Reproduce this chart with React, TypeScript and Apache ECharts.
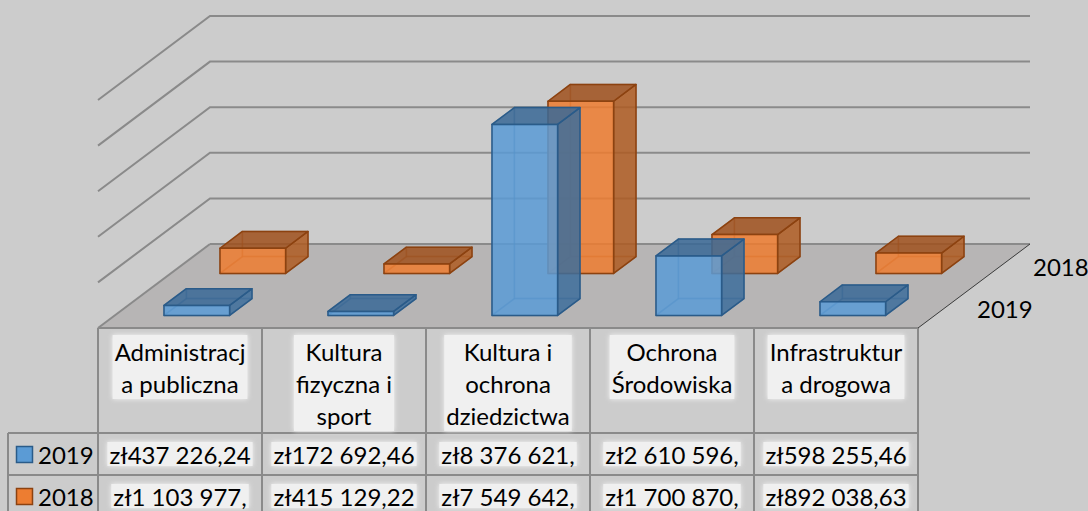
import React, { useEffect, useRef } from "react";
import * as echarts from "echarts";

// ---------- data ----------
const categories = [
  "Administracj\na publiczna",
  "Kultura\nfizyczna i\nsport",
  "Kultura i\nochrona\ndziedzictwa",
  "Ochrona\nŚrodowiska",
  "Infrastruktur\na drogowa",
];
const seriesNames = ["2019", "2018"];
const values2019 = [437226.24, 172692.46, 8376621.0, 2610596.0, 598255.46];
const values2018 = [1103977.0, 415129.22, 7549642.0, 1700870.0, 892038.63];
const yTicks = [2000000, 4000000, 6000000, 8000000, 10000000];

// ---------- layout / style ----------
const W = 1088;
const H = 511;
const GRID_L = 98;
const GRID_R = 918;
const GRID_T = 100;
const FLOOR_Y = 328;
const DX = 112;
const DY = -84;
const FONT = "Lato, 'Open Sans', sans-serif";
const GRID_COLOR = "#8a8a8a";

const palette = [
  { front: "rgba(91,155,213,0.86)", top: "rgba(58,105,150,0.86)", side: "rgba(62,110,155,0.86)", edge: "#2a5b89", solid: "#5b9bd5" },
  { front: "rgba(237,125,49,0.86)", top: "rgba(160,82,30,0.86)", side: "rgba(175,92,35,0.86)", edge: "#8c4210", solid: "#ed7d31" },
];

function plCurrency(v: number): string {
  const [i, d] = v.toFixed(2).split(".");
  const grouped = i.replace(/\B(?=(\d{3})+(?!\d))/g, " ");
  return ("zł" + grouped + "," + d).slice(0, 12);
}

function boxRenderer(row: number) {
  const c = palette[row];
  return (params: any, api: any) => {
    const cat = api.value(0);
    const v = api.value(1);
    const base = api.coord([cat, 0]);
    const topP = api.coord([cat, v]);
    const band = api.size([1, 0])[0];
    const w = band * 0.4;
    const xl = base[0] - w / 2;
    const xr = base[0] + w / 2;
    const yb = base[1];
    const yt = topP[1];
    const f0 = row * 0.5 + 0.15;
    const f1 = f0 + 0.2;
    const P = (x: number, y: number, f: number) => [x + DX * f, y + DY * f];
    const face = (pts: number[][], fill: string, hidden: boolean) => ({
      type: "polygon",
      shape: { points: pts },
      style: {
        fill: hidden ? "rgba(0,0,0,0)" : fill,
        stroke: c.edge,
        lineWidth: 1.5,
        opacity: hidden ? 0.35 : 1,
        lineJoin: "round",
      },
    });
    return {
      type: "group",
      children: [
        face([P(xl, yb, f1), P(xr, yb, f1), P(xr, yt, f1), P(xl, yt, f1)], c.front, true),
        face([P(xl, yb, f0), P(xl, yb, f1), P(xl, yt, f1), P(xl, yt, f0)], c.side, true),
        face([P(xl, yb, f0), P(xr, yb, f0), P(xr, yb, f1), P(xl, yb, f1)], c.top, true),
        face([P(xr, yb, f0), P(xr, yb, f1), P(xr, yt, f1), P(xr, yt, f0)], c.side, false),
        face([P(xl, yt, f0), P(xr, yt, f0), P(xr, yt, f1), P(xl, yt, f1)], c.top, false),
        face([P(xl, yb, f0), P(xr, yb, f0), P(xr, yt, f0), P(xl, yt, f0)], c.front, false),
      ],
    };
  };
}

function floorRenderer(params: any, api: any) {
  const band = api.size([1, 0])[0];
  const a = api.coord([0, 0]);
  const b = api.coord([categories.length - 1, 0]);
  const L = a[0] - band / 2;
  const R = b[0] + band / 2;
  const y = a[1];
  return {
    type: "group",
    children: [
      {
        type: "polygon",
        shape: { points: [[L, y], [R, y], [R + DX, y + DY], [L + DX, y + DY]] },
        style: { fill: "#b7b5b5", stroke: "none" },
      },
      { type: "line", shape: { x1: L, y1: y, x2: L + DX, y2: y + DY }, style: { stroke: GRID_COLOR, lineWidth: 2 } },
      { type: "line", shape: { x1: L + DX, y1: y + DY, x2: R + DX, y2: y + DY }, style: { stroke: GRID_COLOR, lineWidth: 2 } },
      { type: "line", shape: { x1: R, y1: y, x2: R + DX, y2: y + DY }, style: { stroke: "#3a3a3a", lineWidth: 1 } },
      { type: "line", shape: { x1: L, y1: y, x2: R, y2: y }, style: { stroke: GRID_COLOR, lineWidth: 2 } },
    ],
  };
}

function wallRenderer(params: any, api: any) {
  const band = api.size([1, 0])[0];
  const v = api.value(1);
  const a = api.coord([0, v]);
  const b = api.coord([categories.length - 1, v]);
  const L = a[0] - band / 2;
  const R = b[0] + band / 2;
  const y = a[1];
  return {
    type: "polyline",
    shape: { points: [[L, y], [L + DX, y + DY], [R + DX, y + DY]] },
    style: { stroke: GRID_COLOR, lineWidth: 2, fill: "none" },
  };
}

function buildTable(): any[] {
  const els: any[] = [];
  const colW = (GRID_R - GRID_L) / categories.length;
  const headerBottom = 433;
  const rowH = 42;
  const lineStyle = { stroke: GRID_COLOR, lineWidth: 2 };
  for (let i = 0; i <= categories.length; i++) {
    const x = GRID_L + i * colW;
    els.push({ type: "line", shape: { x1: x, y1: FLOOR_Y, x2: x, y2: H + 5 }, style: lineStyle, z: 1 });
  }
  els.push({ type: "line", shape: { x1: 8, y1: headerBottom, x2: 8, y2: H + 5 }, style: lineStyle, z: 1 });
  for (let r = 0; r <= seriesNames.length; r++) {
    const y = headerBottom + r * rowH;
    els.push({ type: "line", shape: { x1: 8, y1: y, x2: GRID_R, y2: y }, style: lineStyle, z: 1 });
  }
  const glow = {
    backgroundColor: "#f0f0f0",
    shadowColor: "rgba(250,250,250,0.9)",
    shadowBlur: 5,
    padding: [0, 2],
  };
  categories.forEach((c, i) => {
    els.push({
      type: "text",
      x: GRID_L + colW * (i + 0.5),
      y: 335,
      z: 2,
      style: { text: c, font: `24px ${FONT}`, fill: "#000", align: "center", verticalAlign: "top", lineHeight: 32, ...glow },
    });
  });
  const rows = [values2019, values2018];
  rows.forEach((vals, r) => {
    const cy = headerBottom + rowH * (r + 0.5);
    els.push({
      type: "rect",
      shape: { x: 16.5, y: cy - 7.5, width: 16, height: 16 },
      style: { fill: palette[r].solid, stroke: palette[r].edge, lineWidth: 1.5 },
      z: 2,
    });
    els.push({
      type: "text",
      x: 38,
      y: cy,
      z: 2,
      style: { text: seriesNames[r], font: `24px ${FONT}`, fill: "#000", align: "left", verticalAlign: "middle" },
    });
    vals.forEach((v, i) => {
      els.push({
        type: "text",
        x: GRID_L + colW * (i + 0.5),
        y: cy,
        z: 2,
        style: { text: plCurrency(v), font: `24px ${FONT}`, fill: "#000", align: "center", verticalAlign: "middle", ...glow },
      });
    });
  });
  // depth axis labels
  seriesNames.forEach((name, r) => {
    const fc = r * 0.5 + 0.25;
    els.push({
      type: "text",
      x: GRID_R + DX * fc + 31,
      y: FLOOR_Y + DY * fc + 1,
      z: 2,
      style: { text: name, font: `24px ${FONT}`, fill: "#000", align: "left", verticalAlign: "middle" },
    });
  });
  return els;
}

export default function App() {
  const ref = useRef<HTMLDivElement>(null);
  useEffect(() => {
    if (!ref.current) return;
    const chart = echarts.init(ref.current, null, { renderer: "svg" });
    const option: any = {
      animation: false,
      backgroundColor: "#cccccc",
      grid: { left: GRID_L, top: GRID_T, width: GRID_R - GRID_L, height: FLOOR_Y - GRID_T },
      xAxis: { type: "category", data: categories, show: false },
      yAxis: { type: "value", min: 0, max: 10000000, interval: 2000000, show: false },
      series: [
        { type: "custom", name: "floor", renderItem: floorRenderer, data: [[0, 0]], clip: false, silent: true },
        { type: "custom", name: "walls", renderItem: wallRenderer, data: yTicks.map((v) => [0, v]), clip: false, silent: true },
        { type: "custom", name: seriesNames[1], renderItem: boxRenderer(1), data: values2018.map((v, i) => [i, v]), encode: { x: 0, y: 1 }, clip: false },
        { type: "custom", name: seriesNames[0], renderItem: boxRenderer(0), data: values2019.map((v, i) => [i, v]), encode: { x: 0, y: 1 }, clip: false },
      ],
      graphic: buildTable(),
    };
    chart.setOption(option);
    return () => chart.dispose();
  }, []);
  return <div ref={ref} style={{ position: "fixed", left: 0, top: 0, width: W, height: H }} />;
}
